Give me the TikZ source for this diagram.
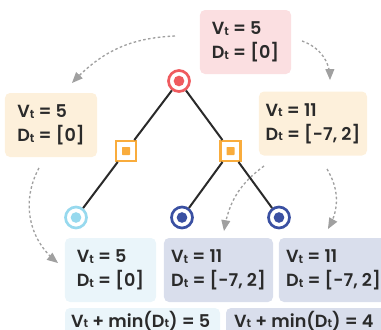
\documentclass[tikz,border=0pt]{standalone}
\usepackage{fontspec}
\setmainfont{Poppins}[UprightFont=* SemiBold]
\usetikzlibrary{arrows}

\definecolor{PinkBox}{HTML}{FBDFE1}
\definecolor{PeachBox}{HTML}{FDF0DB}
\definecolor{IceBox}{HTML}{EAF5FA}
\definecolor{SlateBox}{HTML}{D9DEEC}
\definecolor{RootRed}{HTML}{EF5B5F}
\definecolor{SqOrange}{HTML}{F9AC3C}
\definecolor{LeafLight}{HTML}{97D9EE}
\definecolor{LeafDark}{HTML}{3A50A2}
\definecolor{Ink}{HTML}{2A2A2A}
\definecolor{DashGray}{HTML}{A0A0A0}

\newcommand{\tsub}{\raisebox{-0.6pt}{\fontsize{10}{10}\selectfont t}}

\begin{document}
\begin{tikzpicture}[x=0.03cm, y=-0.03cm,
    font=\fontsize{15}{20.5}\selectfont, text=Ink,
    valbox/.style={rounded corners=0.15cm, inner xsep=0pt, inner ysep=0pt,
        minimum height=1.92cm, align=left},
    ringnode/.style={circle, draw=#1, line width=0.08cm, fill=white,
        minimum size=0.63cm, inner sep=0pt,
        path picture={\fill[#1] (path picture bounding box.center) circle (0.16cm);}},
    chancenode/.style={rectangle, draw=SqOrange, line width=0.07cm, fill=white,
        minimum size=0.59cm, inner sep=0pt,
        path picture={\fill[SqOrange, rounded corners=0.5pt]
            (path picture bounding box.center) ++(-0.12cm,-0.12cm) rectangle ++(0.24cm,0.24cm);}},
    treeedge/.style={line width=0.06cm, Ink},
    hint/.style={->, >=triangle 45, line width=0.04cm, DashGray, dash pattern=on 2.2pt off 2pt}]

    \useasboundingbox (0,0) rectangle (381,330);
    \clip (0,0) rectangle (381,330);

    % value boxes
    \node[valbox, fill=PinkBox, minimum width=2.73cm] (topbox) at (245.5, 42) {V\tsub{} = 5\\D\tsub{} = [0]};
    \node[valbox, fill=PeachBox, minimum width=2.76cm] (leftbox) at (51, 125) {V\tsub{} = 5\\D\tsub{} = [0]};
    \node[valbox, fill=PeachBox, minimum width=3.24cm] (rightbox) at (313, 123.5) {V\tsub{} = 11\\D\tsub{} = [-7, 2]};

    \node[valbox, fill=IceBox, minimum width=2.73cm] (boxA) at (110.5, 270) {V\tsub{} = 5\\D\tsub{} = [0]};
    \node[valbox, fill=SlateBox, minimum width=3.27cm] (boxB) at (218.5, 270) {V\tsub{} = 11\\D\tsub{} = [-7, 2]};
    \node[valbox, fill=SlateBox, minimum width=3.27cm] (boxC) at (333.5, 270) {V\tsub{} = 11\\D\tsub{} = [-7, 2]};

    % sums (cut at the bottom)
    \fill[IceBox, rounded corners=0.15cm] (65, 308) rectangle (220, 350);
    \fill[SlateBox, rounded corners=0.15cm] (226, 308) rectangle (395, 350);
    \node[anchor=base west, inner sep=0pt] (sumA) at (71, 327) {V\tsub{} + min(D\tsub{}) = 5};
    \node[anchor=base west, inner sep=0pt] (sumB) at (234, 327) {V\tsub{} + min(D\tsub{}) = 4};

    % tree
    \node[ringnode=RootRed] (root) at (179, 81) {};
    \node[chancenode] (sqL) at (126, 151) {};
    \node[chancenode] (sqR) at (230.5, 151) {};
    \node[ringnode=LeafLight] (leafA) at (76, 217.5) {};
    \node[ringnode=LeafDark] (leafB) at (182, 217.5) {};
    \node[ringnode=LeafDark] (leafC) at (279, 217.5) {};

    \draw[treeedge] (root) -- (sqL);
    \draw[treeedge] (root) -- (sqR);
    \draw[treeedge] (sqL) -- (leafA);
    \draw[treeedge] (sqR) -- (leafB);
    \draw[treeedge] (sqR) -- (leafC);

    % dashed hints
    \coordinate (h1s) at (175, 36);  \coordinate (h1e) at (72, 83);
    \coordinate (h2s) at (302, 41);  \coordinate (h2e) at (330, 80);
    \coordinate (h3s) at (39, 168);  \coordinate (h3e) at (58, 263);
    \coordinate (h4s) at (264, 166); \coordinate (h4e) at (224, 231);
    \coordinate (h5s) at (327, 169); \coordinate (h5e) at (328, 229);
    \draw[hint] (h1s) to[bend right=22] (h1e);
    \draw[hint] (h2s) to[bend left=35] (h2e);
    \draw[hint] (h3s) to[bend right=40] (h3e);
    \draw[hint] (h4s) to[bend right=22] (h4e);
    \draw[hint] (h5s) to[bend left=30] (h5e);
\end{tikzpicture}
\end{document}
